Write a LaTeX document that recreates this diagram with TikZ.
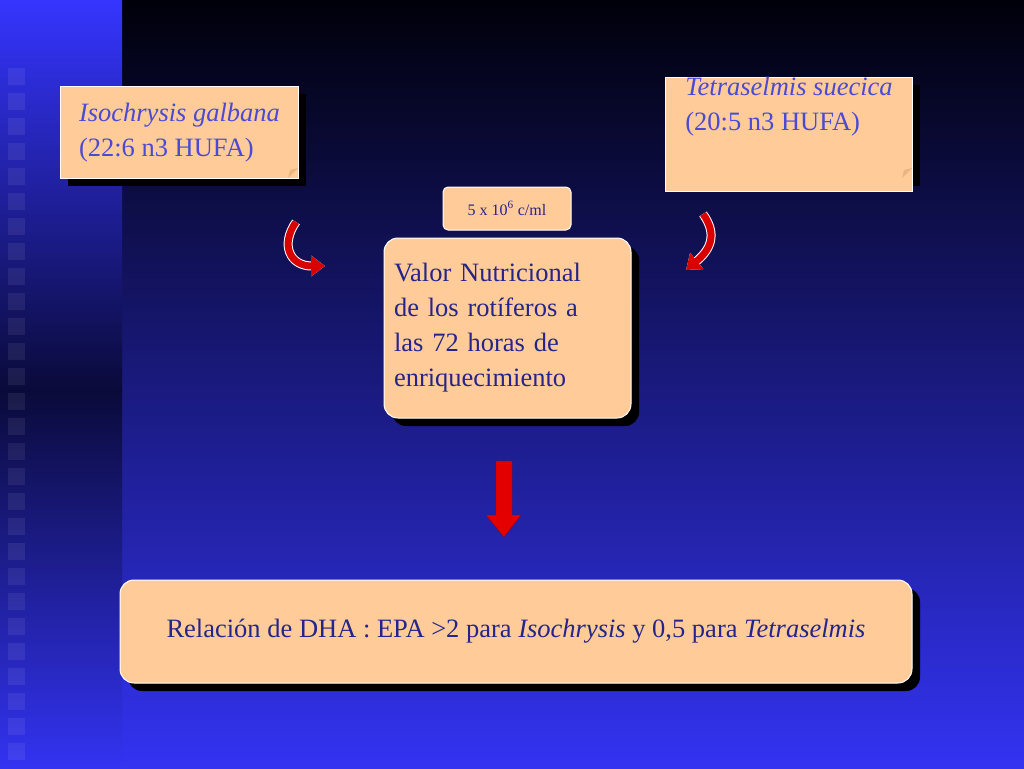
\documentclass[tikz,border=0pt]{standalone}
\usepackage{fontspec}
\setmainfont{Liberation Serif}
\usetikzlibrary{positioning,arrows.meta,calc}
\definecolor{paper}{HTML}{FFCC99}
\definecolor{ink}{HTML}{4A4AD6}
\definecolor{navy}{HTML}{24248A}
\definecolor{bgtop}{HTML}{00000A}
\definecolor{bgbot}{HTML}{3333F2}
\definecolor{striptop}{HTML}{3535FF}
\definecolor{stripmid}{HTML}{0A0A3A}
\tikzset{
  note/.style={draw=white,line width=1pt,fill=paper,align=left,inner sep=0pt,anchor=north west},
  big text/.style={font=\fontsize{26.5}{35}\selectfont},
  shade box/.style={fill=black},
  bend arrow/.style={line width=7pt,-{Triangle[length=14pt,width=20pt]}},
}
\begin{document}
\begin{tikzpicture}[x=1pt,y=-1pt]
  \useasboundingbox (0,0) rectangle (1024,768);
  % background
  \shade[top color=bgtop,bottom color=bgbot] (0,0) rectangle (1024,768);
  \shade[top color=striptop,bottom color=stripmid] (0,0) rectangle (122,390);
  \shade[top color=stripmid,bottom color=bgbot] (0,390) rectangle (122,768);
  \foreach \i in {0,...,27}
    \fill[white,opacity=0.07] (8,{68+25*\i}) rectangle +(17,17);
  % shadows
  \fill[shade box] (68,94) rectangle (306,186);
  \fill[shade box] (673,85) rectangle (920,186);
  \fill[shade box,rounded corners=14pt] (392,246) rectangle (639,426);
  \fill[shade box,rounded corners=14pt] (128,588) rectangle (920,691);
  % boxes
  \node[note,big text,text=ink,minimum width=238pt,minimum height=92pt,inner xsep=10pt] (iso) at (60,86)
    {\textit{Isochrysis galbana}\\(22:6 n3 HUFA)};
  \node[note,big text,text=ink,minimum width=247pt,minimum height=101pt,inner xsep=10pt] (tet) at (665,77)
    {\textit{Tetraselmis suecica}\\(20:5 n3 HUFA)\\[26pt]};
  \node[note,rounded corners=5pt,minimum width=128pt,minimum height=43pt,align=center,anchor=center,
    font=\fontsize{16}{20}\selectfont,text=navy] (dens) at (507,208.5)
    {5 x 10\textsuperscript{6} c/ml};
  \node[note,big text,text=navy,rounded corners=14pt,minimum width=247pt,minimum height=180pt,text width=227pt,anchor=center] (valor) at (507.5,328)
    {Valor Nutricional\\de los rotíferos a\\las 72 horas de\\enriquecimiento};
  \node[note,big text,text=navy,rounded corners=14pt,minimum width=792pt,minimum height=103pt,anchor=center] (rel) at (516,631.5)
    {Relación de DHA : EPA >2 para \textit{Isochrysis} y 0,5 para \textit{Tetraselmis}};
  % page corner folds
  \fill[paper!70!brown] (298,168) -- (288,178) -- (290,170) -- cycle;
  \fill[paper!70!brown] (912,168) -- (902,178) -- (904,170) -- cycle;
  % curved arrows
  \coordinate (la) at (296,222);
  \coordinate (lb) at (325,266);
  \coordinate (ra) at (703,214);
  \coordinate (rb) at (686,270);
  \draw[bend arrow,white,line width=9pt] (la) .. controls (280,245) and (290,266) .. (lb);
  \draw[bend arrow,red!85!black] (la) .. controls (280,245) and (290,266) .. (lb);
  \draw[bend arrow,white,line width=9pt] (ra) .. controls (718,235) and (710,250) .. (rb);
  \draw[bend arrow,red!85!black] (ra) .. controls (718,235) and (710,250) .. (rb);
  % down arrow
  \draw[fill=red!90!black,draw=red!60!black] (496,461) -- (512,461) -- (512,515) -- (521,515)
    -- (504,537) -- (486,515) -- (496,515) -- cycle;
\end{tikzpicture}
\end{document}
